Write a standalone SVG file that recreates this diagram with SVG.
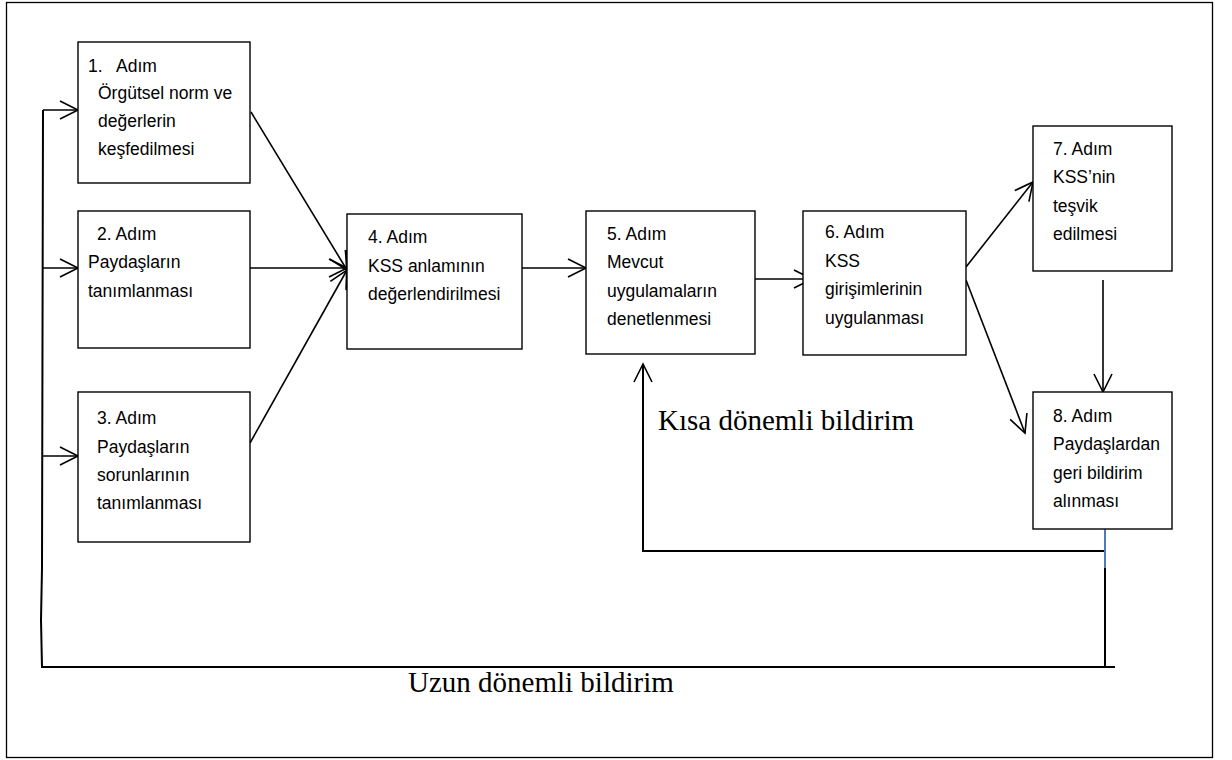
<svg xmlns="http://www.w3.org/2000/svg" width="1232" height="760" viewBox="0 0 1232 760">
<style>
.box{fill:#fff;stroke:#000;stroke-width:1.4}
.t{font-family:"Liberation Sans",Arial,sans-serif;font-size:17.5px;fill:#000}
.big{font-family:"Liberation Serif","Times New Roman",serif;font-size:29px;fill:#000}
.c{fill:none;stroke:#000;stroke-width:1.6}
.fb{fill:none;stroke:#000;stroke-width:2}
</style>
<defs>
<marker id="ah" markerUnits="userSpaceOnUse" markerWidth="24" markerHeight="24" viewBox="-20 -12 24 24" refX="0" refY="0" orient="auto">
<path d="M-18,-9 L0,0 L-18,9" fill="none" stroke="#000" stroke-width="1.6"/>
</marker>
</defs>
<rect x="6.5" y="2.5" width="1206" height="755" fill="#fff" stroke="#000" stroke-width="1.3"/>
<g id="connectors">
<line class="c" x1="251" y1="112" x2="347" y2="270" marker-end="url(#ah)"/>
<line class="c" x1="250" y1="268" x2="347" y2="268" marker-end="url(#ah)"/>
<line class="c" x1="250" y1="443" x2="347" y2="270" marker-end="url(#ah)"/>
<line x1="347" y1="250" x2="347" y2="288" stroke="#000" stroke-width="2.5"/>
<line class="c" x1="522" y1="268" x2="586" y2="268" marker-end="url(#ah)"/>
<line class="c" x1="755" y1="279" x2="812" y2="279" marker-end="url(#ah)"/>
<line class="c" x1="966" y1="267" x2="1033" y2="182" marker-end="url(#ah)"/>
<line class="c" x1="966" y1="280" x2="1025" y2="433" marker-end="url(#ah)"/>
<line class="c" x1="1103" y1="280" x2="1103" y2="392" marker-end="url(#ah)"/>
<polyline class="fb" points="1105,551 643,551 643,364" marker-end="url(#ah)"/>
<line x1="1105" y1="529" x2="1105" y2="568" stroke="#4a7ebb" stroke-width="2"/>
<polyline class="fb" points="1105,568 1105,667"/>
<polyline class="fb" points="1115,667 42,667 41,620 42,568 43,110"/>
<line class="c" x1="43" y1="110" x2="78" y2="110" marker-end="url(#ah)"/>
<line class="c" x1="43" y1="268" x2="78" y2="268" marker-end="url(#ah)"/>
<line class="c" x1="42" y1="456" x2="78" y2="456" marker-end="url(#ah)"/>
</g>
<g id="n1">
<rect class="box" x="78" y="42" width="172" height="141"/>
<text class="t" x="88" y="72">1.</text><text class="t" x="116" y="72">Adım</text>
<text class="t" x="98" y="99">Örgütsel norm ve</text>
<text class="t" x="98" y="127">değerlerin</text>
<text class="t" x="98" y="155">keşfedilmesi</text>
</g>
<g id="n2">
<rect class="box" x="78" y="211" width="172" height="137"/>
<text class="t" x="97" y="240">2. Adım</text>
<text class="t" x="88" y="268">Paydaşların</text>
<text class="t" x="88" y="297">tanımlanması</text>
</g>
<g id="n3">
<rect class="box" x="78" y="392" width="172" height="150"/>
<text class="t" x="97" y="424">3. Adım</text>
<text class="t" x="97" y="453">Paydaşların</text>
<text class="t" x="97" y="481">sorunlarının</text>
<text class="t" x="97" y="509">tanımlanması</text>
</g>
<g id="n4">
<rect class="box" x="347" y="214" width="175" height="135"/>
<text class="t" x="368" y="243">4. Adım</text>
<text class="t" x="368" y="272">KSS anlamının</text>
<text class="t" x="368" y="300">değerlendirilmesi</text>
</g>
<g id="n6">
<rect class="box" x="803" y="211" width="163" height="144"/>
<text class="t" x="825" y="238">6. Adım</text>
<text class="t" x="825" y="267">KSS</text>
<text class="t" x="825" y="295">girişimlerinin</text>
<text class="t" x="825" y="324">uygulanması</text>
</g>
<g id="n5">
<rect class="box" x="586" y="211" width="169" height="143"/>
<text class="t" x="607" y="240">5. Adım</text>
<text class="t" x="607" y="268">Mevcut</text>
<text class="t" x="607" y="297">uygulamaların</text>
<text class="t" x="607" y="325">denetlenmesi</text>
</g>
<g id="n7">
<rect class="box" x="1033" y="126" width="139" height="145"/>
<text class="t" x="1053" y="155">7. Adım</text>
<text class="t" x="1053" y="183">KSS’nin</text>
<text class="t" x="1053" y="212">teşvik</text>
<text class="t" x="1053" y="240">edilmesi</text>
</g>
<g id="n8">
<rect class="box" x="1033" y="392" width="139" height="137"/>
<text class="t" x="1053" y="422">8. Adım</text>
<text class="t" x="1053" y="450">Paydaşlardan</text>
<text class="t" x="1053" y="479">geri bildirim</text>
<text class="t" x="1053" y="507">alınması</text>
</g>
<g id="labels">
<text class="big" x="658" y="430">Kısa dönemli bildirim</text>
<text class="big" x="408" y="692">Uzun dönemli bildirim</text>
</g>
</svg>
